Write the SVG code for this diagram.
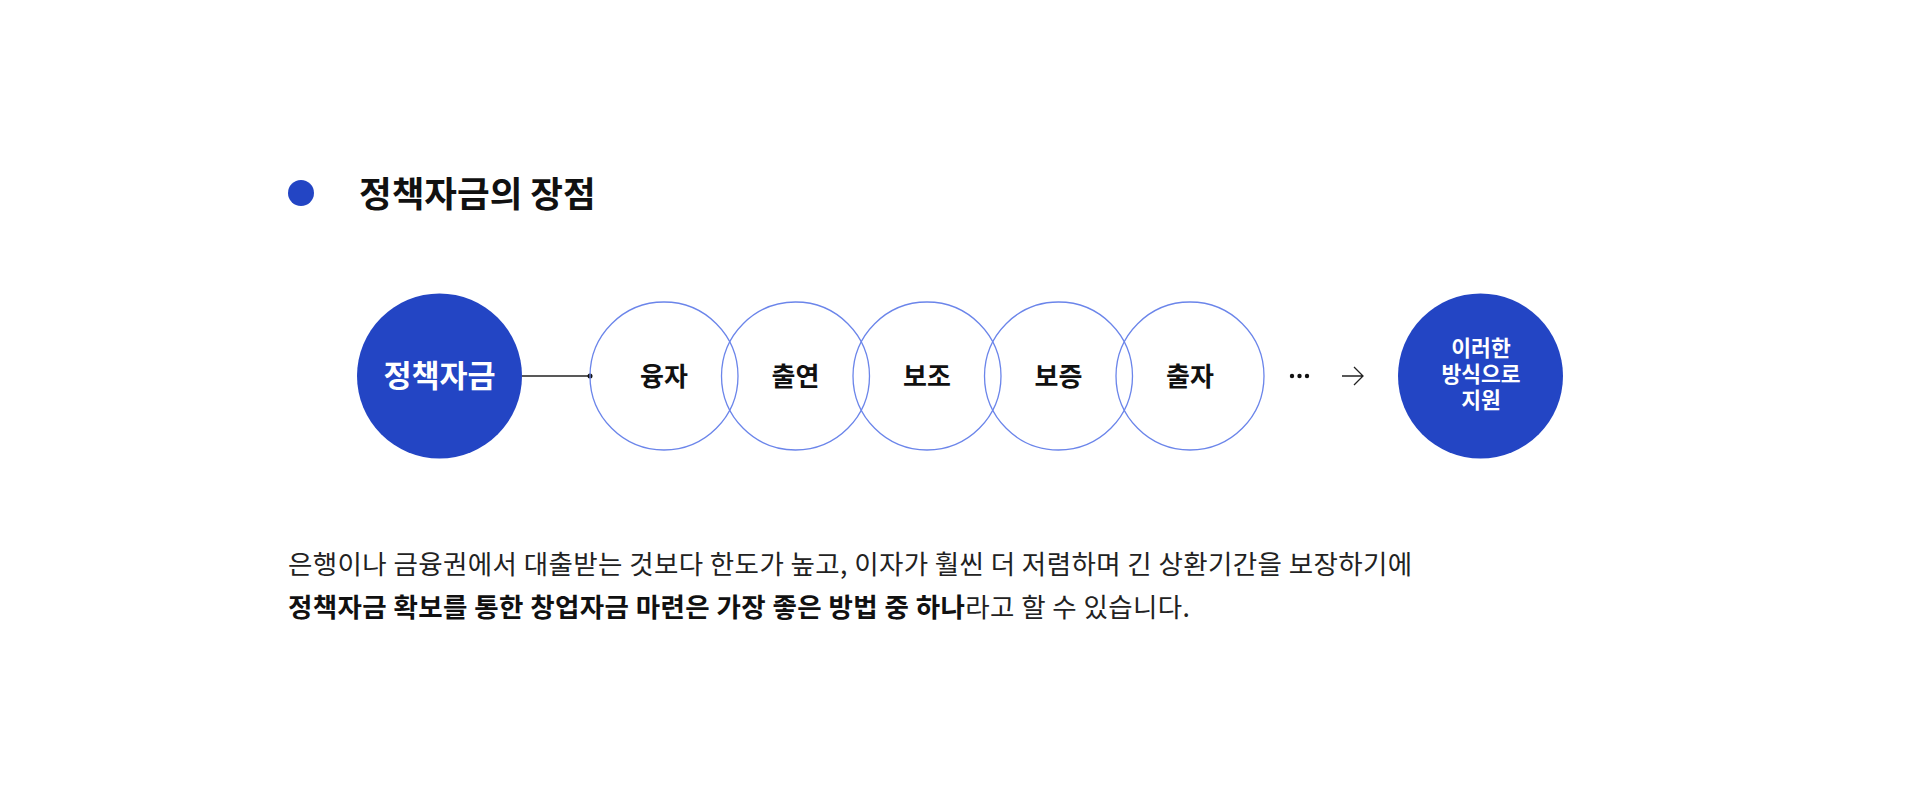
<svg xmlns="http://www.w3.org/2000/svg" width="1919" height="799" viewBox="0 0 1919 799">
<style>
text{font-family:"Noto Sans CJK KR","Noto Sans",sans-serif;}
.title{font-size:35.5px;font-weight:700;fill:#111;}
.hub{fill:#2345c4;}
.hubt{fill:#fff;font-weight:700;text-anchor:middle;}
.ring{fill:none;stroke:#6b85ea;stroke-width:1.3;}
.rt{font-size:26px;font-weight:700;fill:#111;text-anchor:middle;}
.body{font-size:26.5px;fill:#222;letter-spacing:0.4px;}
.b{font-weight:700;fill:#111;}
</style>
<rect width="1919" height="799" fill="#fff"/>
<g id="heading">
<circle cx="301" cy="193" r="13" class="hub"/>
<text x="359" y="207" class="title">정책자금의 장점</text>
</g>
<g id="connectors">
<line x1="522" y1="376" x2="590" y2="376" stroke="#222" stroke-width="1.3"/>
<circle cx="590" cy="376" r="2.5" fill="#111"/>
<circle cx="1292" cy="376" r="2.2" fill="#111"/>
<circle cx="1299.5" cy="376" r="2.2" fill="#111"/>
<circle cx="1307" cy="376" r="2.2" fill="#111"/>
<path d="M1342 376H1363M1354 367L1363 376L1354 385" fill="none" stroke="#222" stroke-width="1.3"/>
</g>
<g id="node-source">
<circle cx="439.5" cy="376" r="82.5" class="hub"/>
<text x="439.5" y="387" class="hubt" font-size="30.5">정책자금</text>
</g>
<g id="node-loan">
<circle cx="664" cy="376" r="74" class="ring"/>
<text x="664" y="386" class="rt">융자</text>
</g>
<g id="node-contribution">
<circle cx="795.5" cy="376" r="74" class="ring"/>
<text x="795.5" y="386" class="rt">출연</text>
</g>
<g id="node-subsidy">
<circle cx="927" cy="376" r="74" class="ring"/>
<text x="927" y="386" class="rt">보조</text>
</g>
<g id="node-guarantee">
<circle cx="1058.5" cy="376" r="74" class="ring"/>
<text x="1058.5" y="386" class="rt">보증</text>
</g>
<g id="node-investment">
<circle cx="1190" cy="376" r="74" class="ring"/>
<text x="1190" y="386" class="rt">출자</text>
</g>
<g id="node-result">
<circle cx="1480.5" cy="376" r="82.5" class="hub"/>
<text x="1481" y="356" class="hubt" font-size="21.5">이러한</text>
<text x="1481" y="382" class="hubt" font-size="21.5">방식으로</text>
<text x="1481" y="408" class="hubt" font-size="21.5">지원</text>
</g>
<g id="description">
<text x="288" y="574" class="body">은행이나 금융권에서 대출받는 것보다 한도가 높고, 이자가 훨씬 더 저렴하며 긴 상환기간을 보장하기에</text>
<text x="288" y="617" class="body"><tspan class="b">정책자금 확보를 통한 창업자금 마련은 가장 좋은 방법 중 하나</tspan>라고 할 수 있습니다.</text>
</g>
</svg>
